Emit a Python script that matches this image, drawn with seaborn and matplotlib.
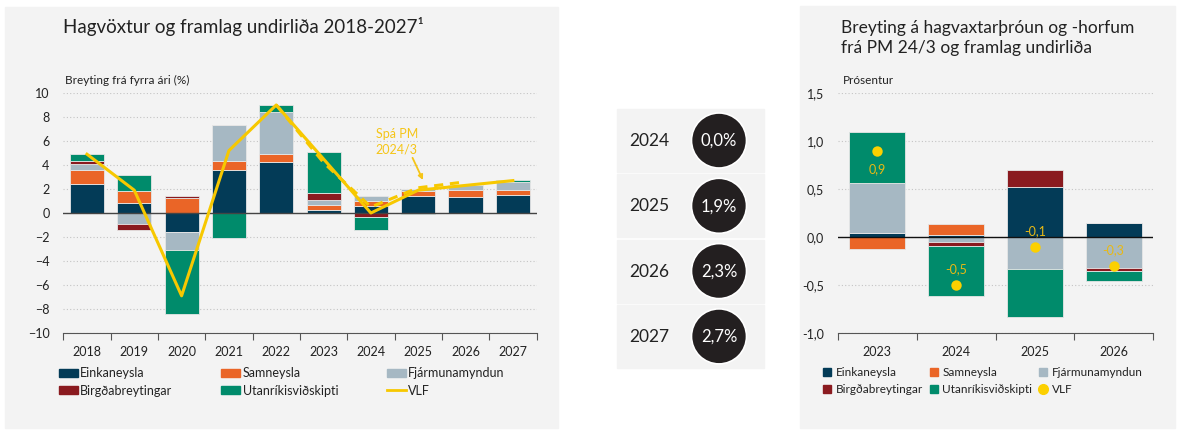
" Hagvöxtur og framlag undirliða "
import numpy as np
import matplotlib
matplotlib.use("Agg")
import matplotlib.pyplot as plt
from matplotlib.patches import Rectangle, Circle, Patch
from matplotlib.lines import Line2D
import seaborn as sns

# vinstri mynd: framlag undirliða til hagvaxtar (%)
years = ['2018', '2019', '2020', '2021', '2022', '2023', '2024', '2025', '2026', '2027']
einkaneysla = [2.4, 0.85, -1.6, 3.6, 4.25, 0.25, 0.55, 1.45, 1.35, 1.5]
samneysla = [1.15, 1.0, 1.25, 0.7, 0.7, 0.45, 0.45, 0.4, 0.55, 0.45]
fjarmunamyndun = [0.5, -0.9, -1.5, 3.0, 3.5, 0.4, 0.4, 0.15, 0.4, 0.65]
birgdabreytingar = [0.3, -0.5, 0.2, 0.0, 0.0, 0.55, -0.35, 0.0, 0.0, 0.0]
utanrikisvidskipti = [0.55, 1.35, -5.3, -2.05, 0.55, 3.4, -1.1, -0.1, 0.05, 0.15]
vlf = [4.9, 1.9, -6.9, 5.2, 9.0, 4.5, 0.0, 1.9, 2.3, 2.7]
spa_years = ['2022', '2023', '2024', '2025', '2026']
spa_pm = [9.0, 4.2, 0.5, 2.1, 2.6]

# miðja: hagvaxtarspá
mid_years = ['2024', '2025', '2026', '2027']
mid_values = [0.0, 1.9, 2.3, 2.7]

# hægri mynd: breyting frá PM 24/3 (prósentur)
r_years = ['2023', '2024', '2025', '2026']
r_einkaneysla = [0.04, 0.02, 0.52, 0.15]
r_samneysla = [-0.12, 0.12, 0.0, 0.0]
r_fjarmunamyndun = [0.52, -0.05, -0.33, -0.32]
r_birgdabreytingar = [0.0, -0.04, 0.18, -0.03]
r_utanrikisvidskipti = [0.53, -0.52, -0.50, -0.11]
r_vlf = [0.9, -0.5, -0.1, -0.3]

LABELS = ['Einkaneysla', 'Samneysla', 'Fjármunamyndun', 'Birgðabreytingar',
          'Utanríkisviðskipti', 'VLF']
COLORS = ['#033b57', '#ea6527', '#a6b8c3', '#8a1a1f', '#008b6b']
YELLOW = '#f7c800'
PANEL = '#f3f3f3'
W, H = 1180, 432

plt.rcParams['font.family'] = ['Lato', 'DejaVu Sans']
plt.rcParams['text.color'] = '#222222'
plt.rcParams['xtick.color'] = '#222222'
plt.rcParams['ytick.color'] = '#222222'


def _comma(v, fmt):
    return format(v, fmt).replace('.', ',')


def _stacked(ax, cats, series, width):
    """ jákvæð og neikvæð gildi staflast hvort í sínu lagi """
    pos = np.zeros(len(cats))
    neg = np.zeros(len(cats))
    for vals, col in zip(series, COLORS):
        vals = np.asarray(vals, dtype=float)
        bottom = np.where(vals >= 0, pos, neg)
        sns.barplot(x=cats, y=vals, bottom=bottom, color=col, saturation=1,
                    width=width, errorbar=None, edgecolor='#e6e6e6',
                    linewidth=0.6, ax=ax)
        pos += np.clip(vals, 0, None)
        neg += np.clip(vals, None, 0)


def _axes(rect):
    ax = fig.add_axes([rect[0] / W, 1 - (rect[1] + rect[3]) / H, rect[2] / W, rect[3] / H])
    ax.set_facecolor('none')
    for s in ['top', 'right', 'left']:
        ax.spines[s].set_visible(False)
    ax.spines['bottom'].set_color('#555555')
    ax.yaxis.grid(True, linestyle=(0, (1, 2)), color='#c4c4c4', linewidth=0.8)
    ax.set_axisbelow(True)
    ax.tick_params(axis='y', length=0, pad=10, labelsize=9)
    ax.tick_params(axis='x', which='major', length=0, pad=9, labelsize=9)
    ax.tick_params(axis='x', which='minor', length=5, width=0.8, color='#555555')
    ax.set_xlabel('')
    ax.set_ylabel('')
    return ax


fig = plt.figure(figsize=(W / 100, H / 100), dpi=100)

# bakgrunnur og miðja
bg = fig.add_axes([0, 0, 1, 1], zorder=-5)
bg.set_xlim(0, W)
bg.set_ylim(H, 0)
bg.axis('off')
bg.add_patch(Rectangle((5, 7), 553, 421, color=PANEL))
bg.add_patch(Rectangle((800, 6), 375, 422, color=PANEL))
for i, (yr, val) in enumerate(zip(mid_years, mid_values)):
    top = 109 + i * 65.3
    bg.add_patch(Rectangle((617, top), 147, 63, color=PANEL))
    bg.add_patch(Circle((719, top + 31.5), 27.5, facecolor='#231f20',
                        edgecolor='white', linewidth=1.2))
    bg.text(629, top + 32, yr, fontsize=12.5, va='center', ha='left')
    bg.text(719, top + 32, _comma(val, '.1f') + '%', fontsize=12,
            va='center', ha='center', color='white')

# vinstri mynd
ax1 = _axes((63.3, 93, 473.2, 240))
_stacked(ax1, years, [einkaneysla, samneysla, fjarmunamyndun, birgdabreytingar,
                      utanrikisvidskipti], 0.72)
sns.pointplot(x=years, y=vlf, color=YELLOW, marker='', linewidth=2.2,
              errorbar=None, ax=ax1)
sns.pointplot(x=spa_years, y=spa_pm, order=years, color=YELLOW, marker='',
              linewidth=2.2, linestyle=(0, (3, 2.2)), errorbar=None, ax=ax1)
ax1.axhline(0, color='#444444', linewidth=1, zorder=1.5)
ax1.set_ylim(-10, 10)
ax1.set_yticks(np.arange(-10, 11, 2))
ax1.set_xlim(-0.5, len(years) - 0.5)
ax1.set_xticks(np.arange(-0.5, len(years), 1), minor=True)
ax1.set_xlabel('')
ax1.set_ylabel('')
ax1.text(6.55, 5.9, 'Spá PM\n2024/3', ha='center', va='center', color='#f5c518',
         fontsize=9, linespacing=1.35)
ax1.annotate('', xy=(7.1, 2.75), xytext=(6.88, 4.6),
             arrowprops=dict(arrowstyle='-|>', color='#f5c518', lw=1.3,
                             shrinkA=0, shrinkB=0, mutation_scale=7))

fig.text(63 / W, 1 - 27 / H, 'Hagvöxtur og framlag undirliða 2018-2027¹',
         fontsize=13.5, va='center')
fig.text(65 / W, 1 - 80 / H, 'Breyting frá fyrra ári (%)', fontsize=8.5, va='center')

handles = [Patch(color=c) for c in COLORS] + [Line2D([], [], color=YELLOW, lw=2)]
order = [0, 3, 1, 4, 2, 5]
fig.legend([handles[k] for k in order], [LABELS[k] for k in order], ncol=3,
           loc='upper left', bbox_to_anchor=(59 / W, 1 - 367 / H),
           bbox_transform=fig.transFigure, frameon=False, fontsize=9,
           handlelength=1.5, handleheight=0.6, handletextpad=0.2,
           columnspacing=3.9, labelspacing=0.45, borderpad=0, borderaxespad=0)

# hægri mynd
ax2 = _axes((838, 93, 315, 240))
_stacked(ax2, r_years, [r_einkaneysla, r_samneysla, r_fjarmunamyndun,
                        r_birgdabreytingar, r_utanrikisvidskipti], 0.71)
sns.pointplot(x=r_years, y=r_vlf, color='#fcd000', marker='o', linestyle='none',
              markersize=7.5, markeredgewidth=0, errorbar=None, ax=ax2)
for i, v in enumerate(r_vlf):
    off = -0.19 if v > 0 else 0.165
    ax2.text(i, v + off, _comma(v, '.1f'), ha='center', va='center',
             fontsize=9, color='#e8b914')
ax2.axhline(0, color='#111111', linewidth=1, zorder=1.5)
ax2.set_ylim(-1, 1.5)
ax2.set_yticks(np.arange(-1, 1.51, 0.5))
ax2.set_yticklabels([_comma(t, '.1f') for t in np.arange(-1, 1.51, 0.5)])
ax2.set_xlim(-0.5, len(r_years) - 0.5)
ax2.set_xticks(np.arange(-0.5, len(r_years), 1), minor=True)
ax2.set_xlabel('')
ax2.set_ylabel('')

fig.text(841 / W, 1 - 38 / H, 'Breyting á hagvaxtarþróun og -horfum\nfrá PM 24/3 og framlag undirliða',
         fontsize=12.5, va='center', linespacing=1.3)
fig.text(843 / W, 1 - 81 / H, 'Prósentur', fontsize=8.5, va='center')

r_handles = [Line2D([], [], marker='s', color=c, linestyle='none', markersize=6)
             for c in COLORS]
r_handles.append(Line2D([], [], marker='o', color='#fcd000', linestyle='none', markersize=7))
fig.legend([r_handles[k] for k in order], [LABELS[k] for k in order], ncol=3,
           loc='upper left', bbox_to_anchor=(823 / W, 1 - 367 / H),
           bbox_transform=fig.transFigure, frameon=False, fontsize=8.5,
           handlelength=0.7, handletextpad=0.35, columnspacing=0.6,
           labelspacing=0.55, borderpad=0, borderaxespad=0)

fig.savefig('out.png', dpi=100)
